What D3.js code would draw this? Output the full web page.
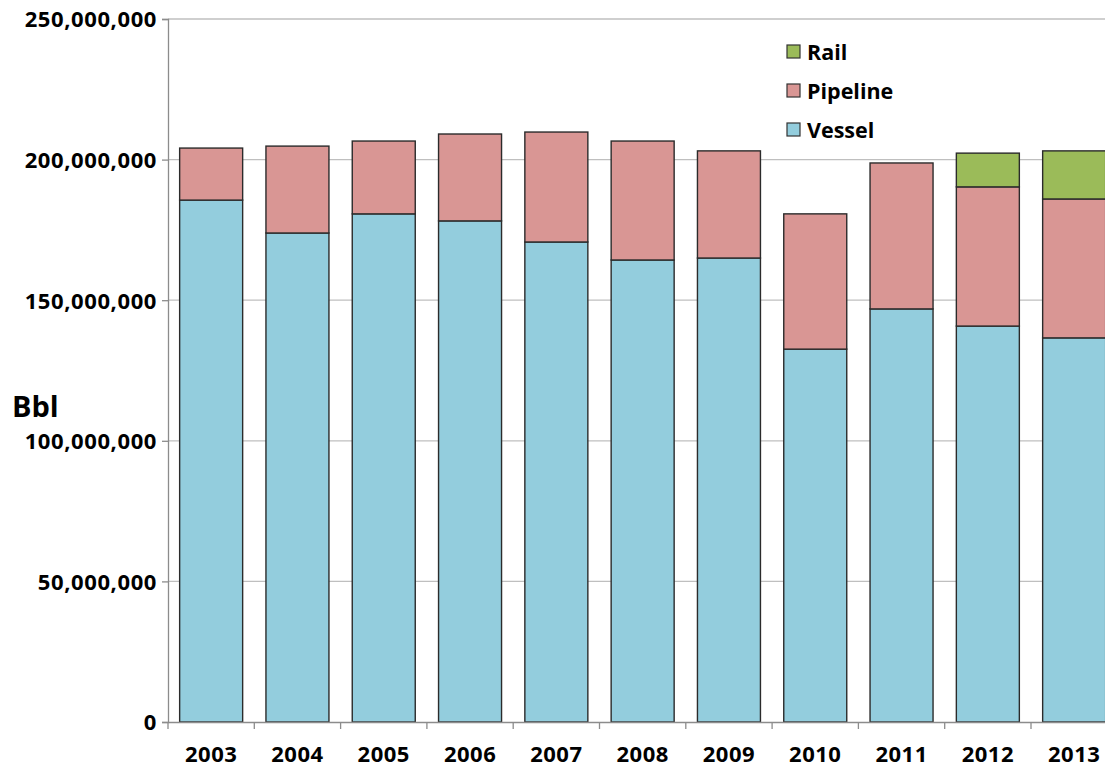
<!DOCTYPE html>
<html>
<head>
<meta charset="utf-8">
<script src="https://cdn.jsdelivr.net/npm/d3@7"></script>
<style>
  html, body { margin: 0; padding: 0; background: #fff; overflow: hidden; }
  svg { display: block; }
  text { font-family: "Open Sans", "Liberation Sans", sans-serif; font-weight: bold; fill: #000; }
</style>
</head>
<body>
<svg id="chart" width="1105" height="767"></svg>
<script>
const years = ["2003","2004","2005","2006","2007","2008","2009","2010","2011","2012","2013"];
const vessel   = [185.6e6, 173.9e6, 180.7e6, 178.2e6, 170.7e6, 164.3e6, 165.0e6, 132.6e6, 146.9e6, 140.8e6, 136.6e6];
const pipeline = [18.5e6, 30.9e6, 25.9e6, 30.9e6, 39.1e6, 42.3e6, 38.1e6, 48.1e6, 51.9e6, 49.5e6, 49.4e6];
const rail     = [0, 0, 0, 0, 0, 0, 0, 0, 0, 12.0e6, 17.1e6];
const yTicks = [0, 50e6, 100e6, 150e6, 200e6, 250e6];
const seriesNames = ["Vessel", "Pipeline", "Rail"];
const colors = { Vessel: "#93CDDD", Pipeline: "#D99694", Rail: "#9BBB59" };

const svg = d3.select("#chart");
const margin = { left: 168, top: 19, bottom: 45 };
const plotW = 86.3 * years.length;
const H = 767;
const y0 = H - margin.bottom; // 722

const x = d3.scaleBand().domain(years).range([margin.left, margin.left + plotW]).paddingInner(0.27).paddingOuter(0.135);
const y = d3.scaleLinear().domain([0, 250e6]).range([y0, margin.top]);

// gridlines
svg.append("g").selectAll("line").data(yTicks.filter(d => d > 0)).join("line")
  .attr("x1", margin.left).attr("x2", margin.left + plotW)
  .attr("y1", d => y(d)).attr("y2", d => y(d))
  .attr("stroke", "#BFBFBF").attr("stroke-width", 1.3);

// stacked data
const rows = years.map((yr, i) => ({ year: yr, Vessel: vessel[i], Pipeline: pipeline[i], Rail: rail[i] }));
const stack = d3.stack().keys(seriesNames)(rows);

svg.append("g").selectAll("g").data(stack).join("g")
  .attr("fill", d => colors[d.key])
  .selectAll("rect").data(d => d.filter(p => p[1] - p[0] > 0)).join("rect")
  .attr("x", d => x(d.data.year))
  .attr("width", x.bandwidth())
  .attr("y", d => y(d[1]))
  .attr("height", d => y(d[0]) - y(d[1]))
  .attr("stroke", "#2b2b2b").attr("stroke-width", 1.4);

// y axis
const yAxis = d3.axisLeft(y).tickValues(yTicks).tickSize(6).tickPadding(6).tickFormat(d3.format(","));
const gy = svg.append("g").attr("transform", `translate(${margin.left},0)`).call(yAxis);
gy.select(".domain").attr("stroke", "#8C8C8C").attr("stroke-width", 1.3);
gy.selectAll(".tick line").attr("stroke", "#8C8C8C").attr("stroke-width", 1.3);
gy.selectAll(".tick text").style("font-size", "22px").style("letter-spacing", "0.6px").attr("dy", "0.36em").attr("x", -11);

// x axis
const xAxis = d3.axisBottom(x).tickSize(0).tickPadding(0);
const gx = svg.append("g").attr("transform", `translate(0,${y0})`).call(xAxis);
gx.select(".domain").attr("stroke", "#8C8C8C").attr("stroke-width", 1.3);
gx.selectAll(".tick text").style("font-size", "22px").style("letter-spacing", "0.5px").attr("y", 24).attr("dy", "0.71em");
// boundary tick marks
const step = x.step();
const bounds = d3.range(0, years.length + 1).map(i => margin.left + i * step);
svg.append("g").selectAll("line").data(bounds).join("line")
  .attr("x1", d => d).attr("x2", d => d)
  .attr("y1", y0).attr("y2", y0 + 7)
  .attr("stroke", "#8C8C8C").attr("stroke-width", 1.3);

// y label
svg.append("text").attr("x", 12).attr("y", 417).style("font-size", "29px").text("Bbl");

// legend
const legendItems = ["Rail", "Pipeline", "Vessel"];
const lg = svg.append("g").selectAll("g").data(legendItems).join("g")
  .attr("transform", (d, i) => `translate(787, ${45 + i * 39})`);
lg.append("rect").attr("width", 13).attr("height", 13)
  .attr("fill", d => colors[d]).attr("stroke", "#333").attr("stroke-width", 1.2);
lg.append("text").attr("x", 20).attr("y", 7).attr("dy", "0.36em").style("font-size", "21.5px").text(d => d);
</script>
</body>
</html>
